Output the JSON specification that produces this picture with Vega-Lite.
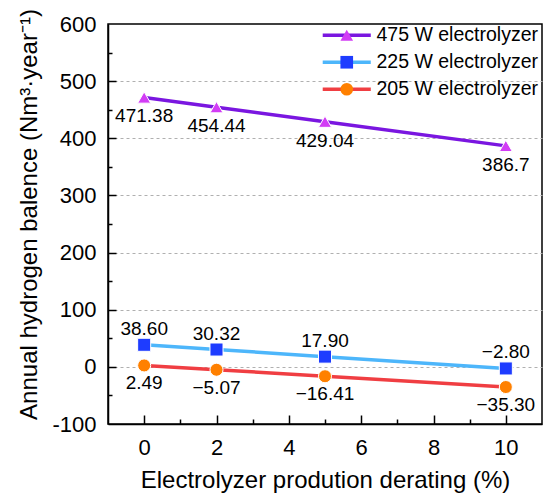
{
  "$schema": "https://vega.github.io/schema/vega-lite/v6.json",
  "width": 434,
  "height": 400,
  "autosize": "none",
  "padding": {"left": 108, "top": 24, "right": 8, "bottom": 80},
  "config": {
    "font": "Liberation Sans",
    "view": {"stroke": "black", "strokeWidth": 1.5},
    "axis": {"labelColor": "black", "titleColor": "black", "domainColor": "black", "domainWidth": 1.5, "labelFont": "Liberation Sans", "titleFont": "Liberation Sans", "titleFontWeight": "normal"},
    "legend": {"labelFont": "Liberation Sans", "labelColor": "black", "labelLimit": 400}
  },
  "data": {
    "values": [
      {"x": 0, "y": 471.38, "series": "475 W electrolyzer", "label": "471.38"},
      {"x": 2, "y": 454.44, "series": "475 W electrolyzer", "label": "454.44"},
      {"x": 5, "y": 429.04, "series": "475 W electrolyzer", "label": "429.04"},
      {"x": 10, "y": 386.7, "series": "475 W electrolyzer", "label": "386.7"},
      {"x": 0, "y": 38.6, "series": "225 W electrolyzer", "label": "38.60"},
      {"x": 2, "y": 30.32, "series": "225 W electrolyzer", "label": "30.32"},
      {"x": 5, "y": 17.9, "series": "225 W electrolyzer", "label": "17.90"},
      {"x": 10, "y": -2.8, "series": "225 W electrolyzer", "label": "−2.80"},
      {"x": 0, "y": 2.49, "series": "205 W electrolyzer", "label": "2.49"},
      {"x": 2, "y": -5.07, "series": "205 W electrolyzer", "label": "−5.07"},
      {"x": 5, "y": -16.41, "series": "205 W electrolyzer", "label": "−16.41"},
      {"x": 10, "y": -35.3, "series": "205 W electrolyzer", "label": "−35.30"}
    ]
  },
  "resolve": {"axis": {"x": "independent", "y": "independent"}},
  "layer": [
    {
      "mark": {"type": "line", "strokeWidth": 3.5},
      "encoding": {
        "x": {
          "field": "x", "type": "quantitative",
          "scale": {"domain": [-1, 11], "nice": false, "zero": false},
          "axis": {
            "values": [0, 2, 4, 6, 8, 10], "ticks": false, "grid": false,
            "labelFontSize": 22, "labelPadding": 13,
            "title": "Electrolyzer prodution derating (%)", "titleFontSize": 24, "titlePadding": 10
          }
        },
        "y": {
          "field": "y", "type": "quantitative",
          "scale": {"domain": [-100, 600], "nice": false, "zero": false},
          "axis": {
            "values": [-100, 0, 100, 200, 300, 400, 500, 600], "ticks": false,
            "grid": true, "gridDash": [3, 3], "gridColor": "#b0b0b0", "gridWidth": 1,
            "gridOpacity": {"condition": {"test": "datum.value === 600 || datum.value === -100", "value": 0}, "value": 1},
            "labelFontSize": 22, "labelPadding": 12,
            "labelExpr": "replace(datum.label, '−', '-')",
            "title": "Annual hydrogen balence (Nm³·year⁻¹)", "titleFontSize": 24, "titlePadding": 10, "titleY": 190
          }
        },
        "stroke": {
          "field": "series", "type": "nominal",
          "scale": {"domain": ["205 W electrolyzer", "225 W electrolyzer", "475 W electrolyzer"], "range": ["#f03e42", "#4db6fb", "#7a16e0"]},
          "legend": {
            "orient": "none", "legendX": 229, "legendY": 1.5, "title": null, "padding": 0,
            "values": ["475 W electrolyzer", "225 W electrolyzer", "205 W electrolyzer"],
            "symbolType": "M-3.8,0H3.8", "symbolSize": 160, "symbolStrokeWidth": 3.5,
            "labelFontSize": 19.5, "labelOpacity": 0, "labelOffset": 20, "rowPadding": 6, "zindex": 0
          }
        }
      }
    },
    {
      "mark": {"type": "point", "filled": true, "size": 170, "stroke": "white", "strokeWidth": 1, "opacity": 1},
      "encoding": {
        "x": {"field": "x", "type": "quantitative", "axis": null},
        "y": {"field": "y", "type": "quantitative", "axis": null},
        "fill": {
          "field": "series", "type": "nominal",
          "scale": {"domain": ["475 W electrolyzer", "225 W electrolyzer", "205 W electrolyzer"], "range": ["#d23cf5", "#1e3cff", "#ff8000"]},
          "legend": {
            "orient": "none", "legendX": 229, "legendY": 1.5, "title": null, "padding": 0,
            "symbolSize": 160, "symbolStrokeColor": "white", "symbolStrokeWidth": 1,
            "labelFontSize": 19.5, "labelOffset": 20, "rowPadding": 6, "zindex": 1
          }
        },
        "shape": {
          "field": "series", "type": "nominal",
          "scale": {"domain": ["475 W electrolyzer", "225 W electrolyzer", "205 W electrolyzer"], "range": ["triangle-up", "square", "circle"]},
          "legend": {
            "orient": "none", "legendX": 229, "legendY": 1.5, "title": null, "padding": 0,
            "symbolSize": 160, "symbolStrokeColor": "white", "symbolStrokeWidth": 1,
            "labelFontSize": 19.5, "labelOffset": 20, "rowPadding": 6, "zindex": 1
          }
        }
      }
    },
    {
      "transform": [{"filter": "datum.series === '475 W electrolyzer'"}],
      "mark": {"type": "text", "dy": 19, "fontSize": 19, "color": "black"},
      "encoding": {
        "x": {
          "field": "x", "type": "quantitative",
          "axis": {"orient": "top", "offset": -400, "values": [0, 2, 4, 6, 8, 10], "labels": false, "domain": false, "grid": false, "title": null, "tickColor": "black", "tickWidth": 1.5, "tickSize": 9}
        },
        "y": {
          "field": "y", "type": "quantitative",
          "axis": {"orient": "right", "offset": -434, "values": [0, 100, 200, 300, 400, 500], "labels": false, "domain": false, "grid": false, "title": null, "tickColor": "black", "tickWidth": 1.5, "tickSize": 8}
        },
        "text": {"field": "label"}
      }
    },
    {
      "transform": [{"filter": "datum.series === '225 W electrolyzer'"}],
      "mark": {"type": "text", "dy": -16, "fontSize": 19, "color": "black"},
      "encoding": {
        "x": {
          "field": "x", "type": "quantitative",
          "axis": {"orient": "top", "offset": -400, "values": [1, 3, 5, 7, 9], "labels": false, "domain": false, "grid": false, "title": null, "tickColor": "black", "tickWidth": 1.5, "tickSize": 5}
        },
        "y": {
          "field": "y", "type": "quantitative",
          "axis": {"orient": "right", "offset": -434, "values": [-50, 50, 150, 250, 350, 450, 550], "labels": false, "domain": false, "grid": false, "title": null, "tickColor": "black", "tickWidth": 1.5, "tickSize": 4}
        },
        "text": {"field": "label"}
      }
    },
    {
      "transform": [{"filter": "datum.series === '205 W electrolyzer'"}],
      "mark": {"type": "text", "dy": 18, "fontSize": 19, "color": "black"},
      "encoding": {
        "x": {"field": "x", "type": "quantitative", "axis": null},
        "y": {"field": "y", "type": "quantitative", "axis": null},
        "text": {"field": "label"}
      }
    }
  ]
}
